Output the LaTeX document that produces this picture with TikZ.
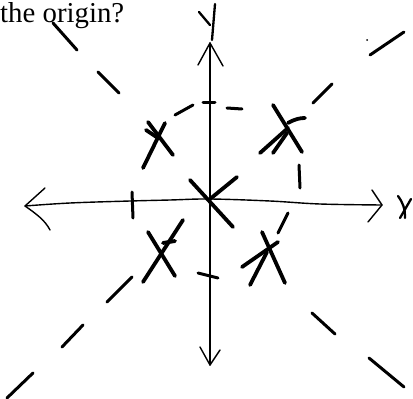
\documentclass[tikz,border=0pt]{standalone}
\usepackage{fontspec}
\usepackage{graphicx}
\setmainfont{Liberation Serif}
\begin{document}
\begin{tikzpicture}[x=1pt,y=-1pt,
  axis/.style={line width=1.4pt,line cap=round,line join=round},
  xstroke/.style={line width=3.8pt,line cap=round},
  dashpiece/.style={line width=3pt,line cap=round},
  hand/.style={line width=2.3pt,line cap=round,line join=round}]
\useasboundingbox (0,0) rectangle (413,399);
% text
\node[anchor=base west,inner sep=0pt] (q) at (0,22) {\resizebox{124pt}{!}{\fontsize{28}{30}\selectfont the origin?}};
% axes
\coordinate (O) at (210,199);
\coordinate (top) at (210,43);
\coordinate (bot) at (210,365);
\coordinate (lft) at (25,206);
\coordinate (rgt) at (382,205);
\draw[axis] (top) -- (O) -- (bot);
\draw[axis] plot[smooth,tension=0.6] coordinates {(25,206) (70,203) (130,201) (170,200) (210,199) (270,201) (320,204) (382,205)};
% arrow heads
\draw[axis] (198,65) -- (top) -- (223,66);
\draw[axis] (200,347) -- (bot) -- (220,350);
\draw[axis] (45,188) -- (lft) .. controls (35,213) and (45,220) .. (50,230);
\draw[axis] (372,190) -- (rgt) -- (368,222);
% labels
\draw[hand] (199,12) -- (210,25);
\draw[hand] (215,4) -- (212,40);
\draw[hand] (398,196) .. controls (403,203) and (405,208) .. (405,218);
\draw[hand] (411,199) -- (400,218);
% diagonals
\draw[dashpiece] (53,23) -- (77,50);
\draw[dashpiece] (98,72) -- (119,93);
\draw[dashpiece] (312,313) -- (335,334);
\draw[dashpiece] (369,358) -- (404,387);
\draw[dashpiece] (370,55) -- (404,32);
\fill (367,40) circle (1pt);
\draw[dashpiece] (313,103) -- (332,84);
\draw[dashpiece] (132,277) -- (107,302);
\draw[dashpiece] (83,325) -- (62,347);
\draw[dashpiece] (33,373) -- (7,398);
% dashed ring
\draw[dashpiece] (175,115) -- (193,105);
\draw[dashpiece] (203,102) -- (215,102);
\draw[dashpiece] (227,108) -- (242,109);
\draw[dashpiece] (299,165) -- (300,188);
\draw[dashpiece] (278,233) -- (288,213);
\draw[dashpiece] (198,273) -- (218,278);
\draw[dashpiece] (132,192) -- (133,218);
% X marks
\draw[xstroke] (190,180) -- (233,227);
\draw[xstroke] (237,177) -- (O);
\draw[xstroke] (148,122) -- (173,155);
\draw[xstroke] (165,123) -- (143,168);
\draw[xstroke] (146,130) -- (158,138);
\draw[xstroke] (273,105) -- (302,152);
\draw[xstroke] (260,153) -- (288,128);
\draw[xstroke] (273,153) -- (287,133);
\draw[xstroke] (288,123) .. controls (295,119) and (300,118) .. (305,118);
\draw[xstroke] (148,232) -- (175,276);
\draw[xstroke] (183,220) -- (143,282);
\draw[xstroke] (163,243) -- (175,241);
\draw[xstroke] (262,232) -- (285,283);
\draw[xstroke] (278,242) -- (242,267);
\draw[xstroke] (267,252) -- (250,285);
\end{tikzpicture}
\end{document}
